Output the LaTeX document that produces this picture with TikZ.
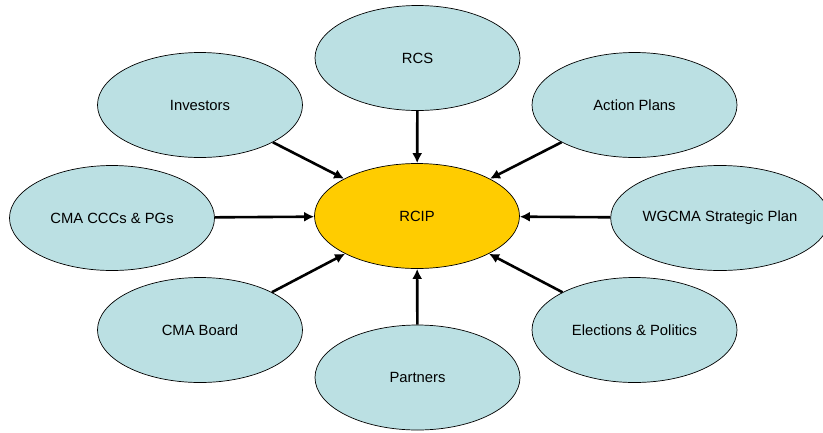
\documentclass[tikz,border=0pt]{standalone}
\usepackage{fontspec}
\setmainfont{Liberation Sans}
\usetikzlibrary{shapes.geometric,arrows.meta}
\definecolor{bubble}{HTML}{BBE0E3}
\definecolor{hub}{HTML}{FFCC00}

\begin{document}
\begin{tikzpicture}[x=1pt, y=-1pt,
	bub/.style={ellipse, draw=black, line width=0.7pt, fill=bubble, minimum width=205pt, minimum height=105pt, inner sep=0pt, font=\fontsize{14.8}{17}\selectfont},
	feed/.style={line width=2.6pt, -{Latex[length=10pt,width=10pt]}}]
	\useasboundingbox (0,0) rectangle (823,432);
	\node[bub, fill=hub] (rcip) at (417,216) {RCIP};
	\node[bub] (rcs) at (417.5,58) {RCS};
	\node[bub] (partners) at (417.5,377.5) {Partners};
	\node[bub] (investors) at (200,105) {Investors};
	\node[bub] (actions) at (634.5,105) {Action Plans};
	\node[bub] (cccs) at (112,218) {CMA CCCs \& PGs};
	\node[bub] (wgcma) at (720,218) {WGCMA Strategic Plan};
	\node[bub] (board) at (200,330) {CMA Board};
	\node[bub] (elections) at (634.5,330) {Elections \& Politics};
	\foreach \src in {rcs,partners,investors,actions,cccs,wgcma,board,elections}
		\draw[feed] (\src) -- (rcip);
\end{tikzpicture}
\end{document}
